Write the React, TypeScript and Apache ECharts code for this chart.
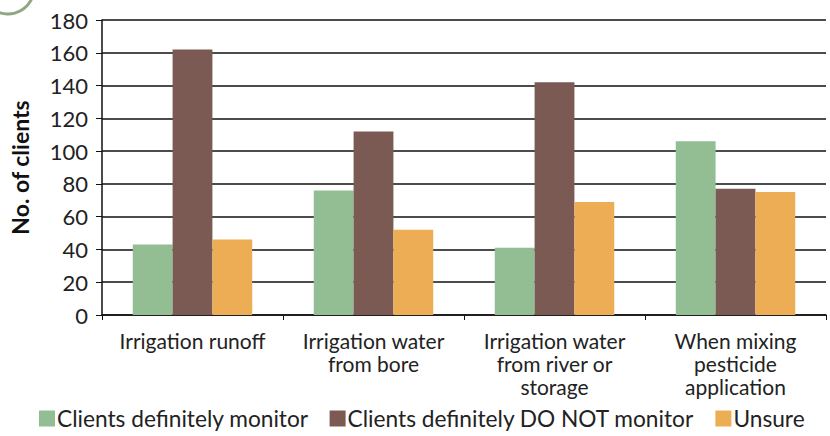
import React, { useEffect, useRef } from "react";
import * as echarts from "echarts";

const categories = [
  "Irrigation runoff",
  "Irrigation water\nfrom bore",
  "Irrigation water\nfrom river or\nstorage",
  "When mixing\npesticide\napplication",
];
const monitor = [43, 76, 41, 106];
const doNotMonitor = [162, 112, 142, 77];
const unsure = [46, 52, 69, 75];
const yTicks = [0, 180, 20];

const FONT = "Lato, 'Open Sans', sans-serif";

export default function App() {
  const ref = useRef<HTMLDivElement>(null);
  useEffect(() => {
    if (!ref.current) return;
    const chart = echarts.init(ref.current, null, { renderer: "svg" });
    const barBase = { type: "bar" as const, barGap: "0%", barCategoryGap: "34%" };
    chart.setOption({
      animation: false,
      backgroundColor: "#ffffff",
      textStyle: { fontFamily: FONT },
      grid: { left: 97, right: 4, top: 20, bottom: 121, containLabel: false },
      legend: {
        bottom: 1,
        left: 34,
        itemWidth: 16,
        itemHeight: 16,
        itemGap: 21,
        icon: "rect",
        textStyle: { fontSize: 22.7, color: "#222", fontFamily: FONT, padding: [0, 0, 0, -3] },
        data: ["Clients definitely monitor", "Clients definitely DO NOT monitor", "Unsure"],
      },
      xAxis: {
        type: "category",
        data: categories,
        axisLine: { lineStyle: { color: "#111", width: 1.5 } },
        axisTick: { show: true, length: 5, lineStyle: { color: "#111" } },
        axisLabel: { color: "#222", fontSize: 21, lineHeight: 23, margin: 14, fontFamily: FONT, interval: 0 },
        splitLine: { show: false },
      },
      yAxis: {
        type: "value",
        min: yTicks[0],
        max: yTicks[1],
        interval: yTicks[2],
        name: "No. of clients",
        nameLocation: "middle",
        nameGap: 71,
        nameTextStyle: { fontSize: 23, fontWeight: "bold", color: "#111", fontFamily: FONT },
        axisLine: { show: true, lineStyle: { color: "#111", width: 1.5 } },
        axisTick: { show: true, length: 6, lineStyle: { color: "#111" } },
        axisLabel: { color: "#222", fontSize: 22, margin: 14, fontFamily: FONT },
        splitLine: { show: true, lineStyle: { color: "#111", width: 1.5 } },
      },
      series: [
        { ...barBase, name: "Clients definitely monitor", data: monitor, itemStyle: { color: "#93BD92" } },
        { ...barBase, name: "Clients definitely DO NOT monitor", data: doNotMonitor, itemStyle: { color: "#7A5A53" } },
        { ...barBase, name: "Unsure", data: unsure, itemStyle: { color: "#ECAD55" } },
      ],
      graphic: [
        {
          type: "circle",
          shape: { cx: 8, cy: -12, r: 26 },
          style: { fill: "none", stroke: "#8FA882", lineWidth: 3 },
        },
      ],
    });
    return () => chart.dispose();
  }, []);
  return <div ref={ref} style={{ width: 830, height: 436, position: "absolute", left: 0, top: 0 }} />;
}
